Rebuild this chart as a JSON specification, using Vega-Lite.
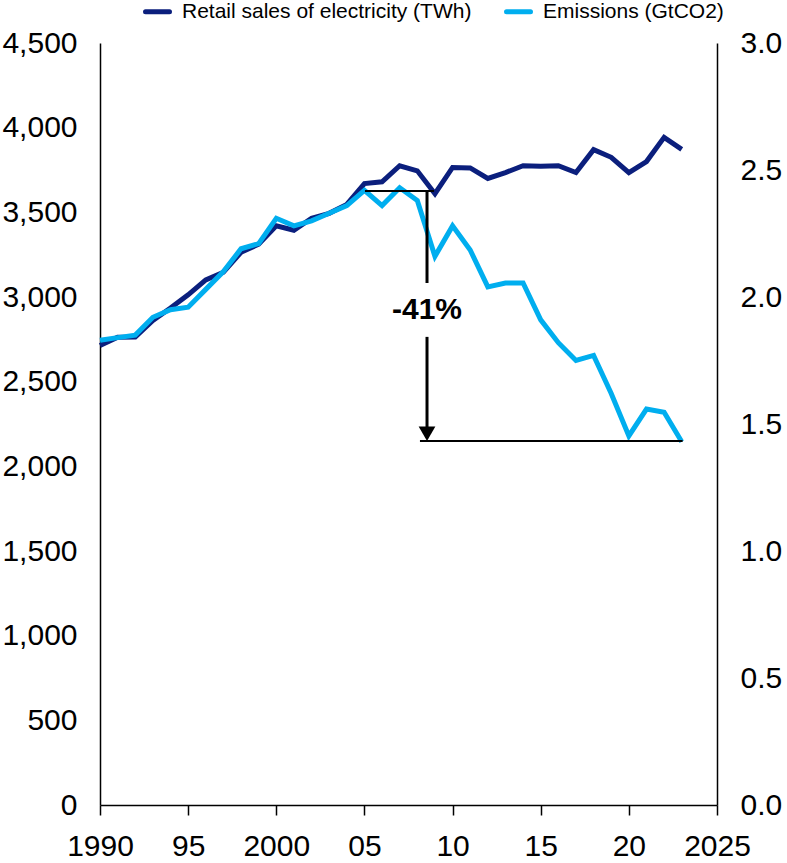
{
  "$schema": "https://vega.github.io/schema/vega-lite/v6.json",
  "width": 617,
  "height": 762,
  "autosize": {"type": "none"},
  "padding": {"left": 100, "top": 43, "right": 70, "bottom": 58},
  "background": "white",
  "config": {
    "view": {"stroke": null},
    "font": "Liberation Sans",
    "axis": {
      "grid": false,
      "domainColor": "black",
      "domainWidth": 1.5,
      "labelColor": "black",
      "labelFont": "Liberation Sans",
      "labelFontSize": 30
    },
    "legend": {
      "labelFont": "Liberation Sans",
      "labelFontSize": 21,
      "labelColor": "black"
    }
  },
  "datasets": {
    "series": [
      {"year": 1990, "sales": 2713, "emissions": 1.83},
      {"year": 1991, "sales": 2762, "emissions": 1.84},
      {"year": 1992, "sales": 2763, "emissions": 1.85},
      {"year": 1993, "sales": 2861, "emissions": 1.92},
      {"year": 1994, "sales": 2935, "emissions": 1.95},
      {"year": 1995, "sales": 3013, "emissions": 1.96},
      {"year": 1996, "sales": 3101, "emissions": 2.03},
      {"year": 1997, "sales": 3146, "emissions": 2.10},
      {"year": 1998, "sales": 3264, "emissions": 2.19},
      {"year": 1999, "sales": 3312, "emissions": 2.21},
      {"year": 2000, "sales": 3421, "emissions": 2.31},
      {"year": 2001, "sales": 3394, "emissions": 2.28},
      {"year": 2002, "sales": 3465, "emissions": 2.30},
      {"year": 2003, "sales": 3494, "emissions": 2.33},
      {"year": 2004, "sales": 3547, "emissions": 2.36},
      {"year": 2005, "sales": 3670, "emissions": 2.42},
      {"year": 2006, "sales": 3680, "emissions": 2.36},
      {"year": 2007, "sales": 3775, "emissions": 2.43},
      {"year": 2008, "sales": 3745, "emissions": 2.38},
      {"year": 2009, "sales": 3610, "emissions": 2.16},
      {"year": 2010, "sales": 3765, "emissions": 2.28},
      {"year": 2011, "sales": 3762, "emissions": 2.185},
      {"year": 2012, "sales": 3700, "emissions": 2.04},
      {"year": 2013, "sales": 3735, "emissions": 2.055},
      {"year": 2014, "sales": 3775, "emissions": 2.055},
      {"year": 2015, "sales": 3772, "emissions": 1.91},
      {"year": 2016, "sales": 3775, "emissions": 1.82},
      {"year": 2017, "sales": 3735, "emissions": 1.75},
      {"year": 2018, "sales": 3870, "emissions": 1.77},
      {"year": 2019, "sales": 3825, "emissions": 1.62},
      {"year": 2020, "sales": 3734, "emissions": 1.453},
      {"year": 2021, "sales": 3800, "emissions": 1.559},
      {"year": 2022, "sales": 3943, "emissions": 1.546},
      {"year": 2023, "sales": 3872, "emissions": 1.43}
    ],
    "guides": [
      {"kind": "level", "year": 2005.03, "year_end": 2008.95, "v0": 2.417, "v1": 2.417},
      {"kind": "level", "year": 2008.15, "year_end": 2023.05, "v0": 1.433, "v1": 1.433},
      {"kind": "arrow", "year": 2008.55, "year_end": 2008.55, "v0": 2.417, "v1": 2.055},
      {"kind": "arrow", "year": 2008.55, "year_end": 2008.55, "v0": 1.843, "v1": 1.47}
    ],
    "callout": [
      {"year": 2008.55, "level": 1.949, "label": "-41%", "tip": 1.462}
    ]
  },
  "layer": [
    {
      "data": {"name": "series"},
      "mark": {"type": "line", "strokeWidth": 5},
      "encoding": {
        "x": {
          "field": "year",
          "type": "quantitative",
          "scale": {"domain": [1990, 2025], "nice": false, "zero": false},
          "axis": {
            "orient": "bottom",
            "title": null,
            "values": [1990, 1995, 2000, 2005, 2010, 2015, 2020, 2025],
            "labelExpr": "datum.value == 1990 || datum.value == 2000 || datum.value == 2025 ? '' + datum.value : format(datum.value % 100, '02d')",
            "ticks": true,
            "tickSize": 10,
            "tickColor": "black",
            "tickWidth": 1.5,
            "labelPadding": 16,
            "labelFlush": false,
            "labelOverlap": false
          }
        },
        "y": {
          "field": "sales",
          "type": "quantitative",
          "scale": {"domain": [0, 4500], "nice": false},
          "axis": {
            "orient": "left",
            "title": null,
            "values": [0, 500, 1000, 1500, 2000, 2500, 3000, 3500, 4000, 4500],
            "format": ",.0f",
            "ticks": false,
            "tickSize": 0,
            "labelPadding": 23,
            "labelFlush": false,
            "labelOverlap": false
          }
        },
        "color": {
          "datum": "Retail sales of electricity (TWh)",
          "type": "nominal",
          "scale": {
            "domain": ["Retail sales of electricity (TWh)", "Emissions (GtCO2)"],
            "range": ["#0b1f7d", "#00aeef"]
          },
          "legend": {
            "orient": "none",
            "direction": "horizontal",
            "legendX": 43,
            "legendY": -46,
            "title": null,
            "symbolType": "stroke",
            "symbolSize": 576,
            "symbolStrokeWidth": 5,
            "labelOffset": 10,
            "columnPadding": 24,
            "labelLimit": 400,
            "encode": {"symbols": {"update": {"strokeCap": {"value": "round"}}}}
          }
        }
      }
    },
    {
      "data": {"name": "series"},
      "mark": {"type": "line", "strokeWidth": 5},
      "encoding": {
        "x": {"field": "year", "type": "quantitative"},
        "y": {
          "field": "emissions",
          "type": "quantitative",
          "scale": {"domain": [0, 3], "nice": false},
          "axis": {
            "orient": "right",
            "title": null,
            "values": [0, 0.5, 1, 1.5, 2, 2.5, 3],
            "format": ".1f",
            "ticks": false,
            "tickSize": 0,
            "labelPadding": 23,
            "labelFlush": false,
            "labelOverlap": false
          }
        },
        "color": {"datum": "Emissions (GtCO2)", "type": "nominal"}
      }
    },
    {
      "data": {"name": "guides"},
      "transform": [{"filter": "datum.kind == 'level'"}],
      "mark": {"type": "rule", "color": "black", "strokeWidth": 2},
      "encoding": {
        "x": {"field": "year", "type": "quantitative"},
        "x2": {"field": "year_end"},
        "y": {"field": "v0", "type": "quantitative", "axis": null, "scale": {"domain": [0, 3], "nice": false}},
        "y2": {"field": "v1"}
      }
    },
    {
      "data": {"name": "guides"},
      "transform": [{"filter": "datum.kind == 'arrow'"}],
      "mark": {"type": "rule", "color": "black", "strokeWidth": 3},
      "encoding": {
        "x": {"field": "year", "type": "quantitative"},
        "x2": {"field": "year_end"},
        "y": {"field": "v0", "type": "quantitative", "axis": null, "scale": {"domain": [0, 3], "nice": false}},
        "y2": {"field": "v1"}
      }
    },
    {
      "data": {"name": "callout"},
      "mark": {"type": "point", "shape": "triangle-down", "filled": true, "color": "black", "size": 280, "opacity": 1, "strokeWidth": 0},
      "encoding": {
        "x": {"field": "year", "type": "quantitative"},
        "y": {"field": "tip", "type": "quantitative", "axis": null, "scale": {"domain": [0, 3], "nice": false}}
      }
    },
    {
      "data": {"name": "callout"},
      "mark": {"type": "text", "font": "Liberation Sans", "fontSize": 30, "fontWeight": "bold", "color": "black", "align": "center", "baseline": "middle"},
      "encoding": {
        "x": {"field": "year", "type": "quantitative"},
        "y": {"field": "level", "type": "quantitative", "axis": null, "scale": {"domain": [0, 3], "nice": false}},
        "text": {"field": "label"}
      }
    }
  ],
  "resolve": {"scale": {"y": "independent"}}
}
